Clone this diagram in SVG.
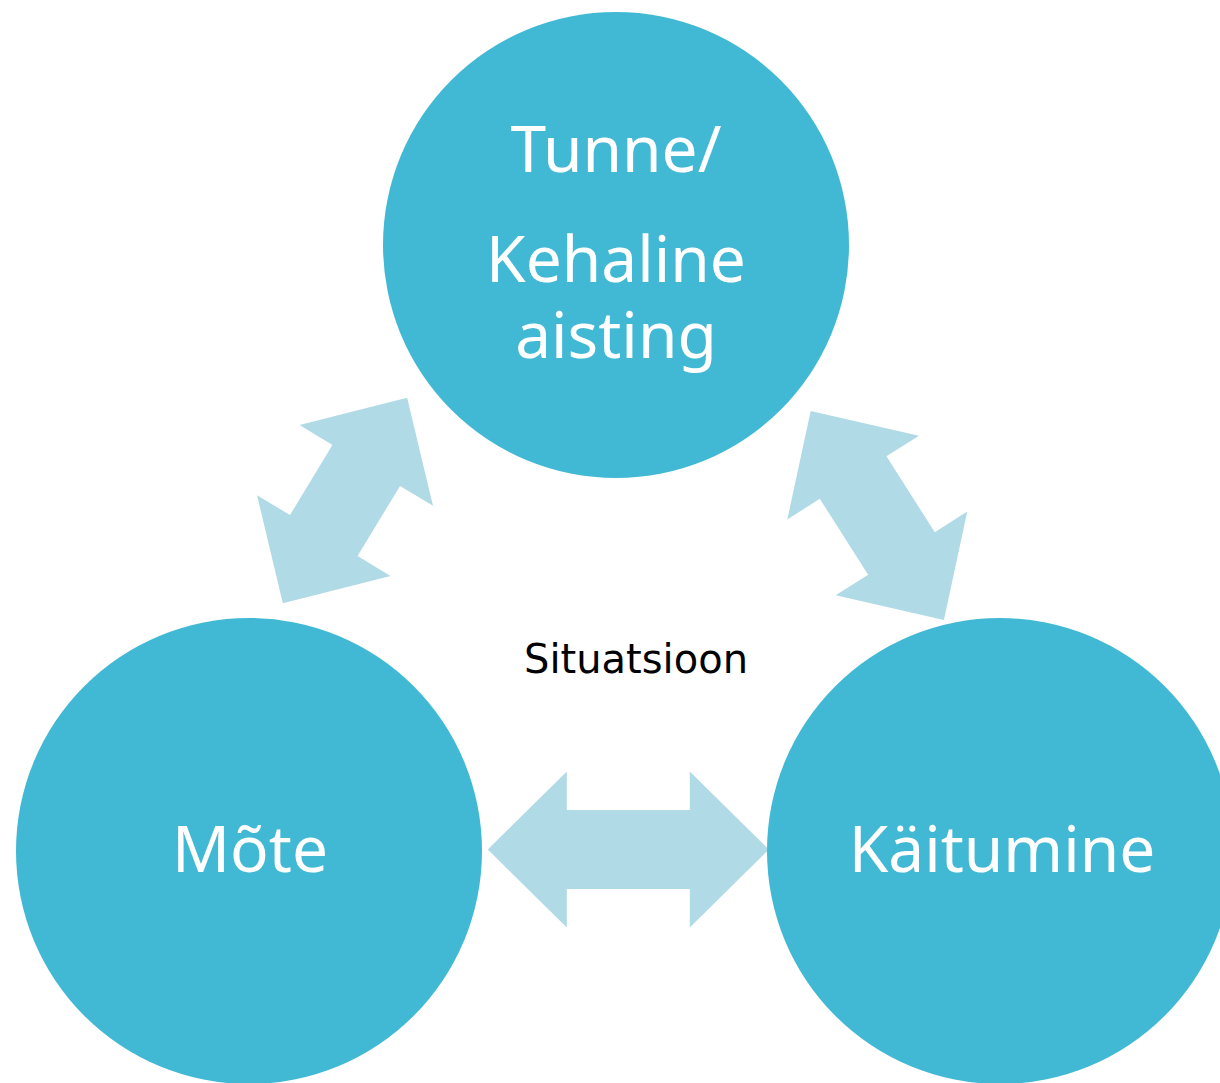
<svg xmlns="http://www.w3.org/2000/svg" width="1220" height="1083" viewBox="0 0 1220 1083">
<style>
.node{fill:#42B9D4}
.lbl{fill:#FFFFFF;font-family:"Noto Sans","Open Sans",sans-serif;font-size:64px;text-anchor:middle}
.arr{fill:#B0DAE6}
.sit{fill:#000000;font-family:"DejaVu Sans",sans-serif;font-size:40px;text-anchor:middle}
</style>
<rect width="1220" height="1083" fill="#FFFFFF"/>
<g id="connectors">
<path class="arr" transform="translate(628.3,849.5)" d="M-140.5,0 L-61.5,-78 L-61.5,-39.5 L61.5,-39.5 L61.5,-78 L140.5,0 L61.5,78 L61.5,39.5 L-61.5,39.5 L-61.5,78 Z"/>
<path class="arr" transform="translate(345,500.5) rotate(121.2)" d="M-120,0 L-41,-78 L-41,-39.5 L41,-39.5 L41,-78 L120,0 L41,78 L41,39.5 L-41,39.5 L-41,78 Z"/>
<path class="arr" transform="translate(877.3,515.5) rotate(57.5)" d="M-124,0 L-45,-78 L-45,-39.5 L45,-39.5 L45,-78 L124,0 L45,78 L45,39.5 L-45,39.5 L-45,78 Z"/>
</g>
<g id="node-tunne">
<circle class="node" cx="616" cy="245" r="233"/>
<text class="lbl" x="616" y="172">Tunne/</text>
<text class="lbl" x="616" y="282">Kehaline</text>
<text class="lbl" x="616" y="358">aisting</text>
</g>
<g id="node-mote">
<circle class="node" cx="249" cy="851" r="233"/>
<text class="lbl" x="250" y="872">Mõte</text>
</g>
<g id="node-kaitumine">
<circle class="node" cx="1000" cy="851" r="233"/>
<text class="lbl" x="1002" y="872">Käitumine</text>
</g>
<g id="situatsioon">
<text class="sit" x="636" y="673">Situatsioon</text>
</g>
</svg>
